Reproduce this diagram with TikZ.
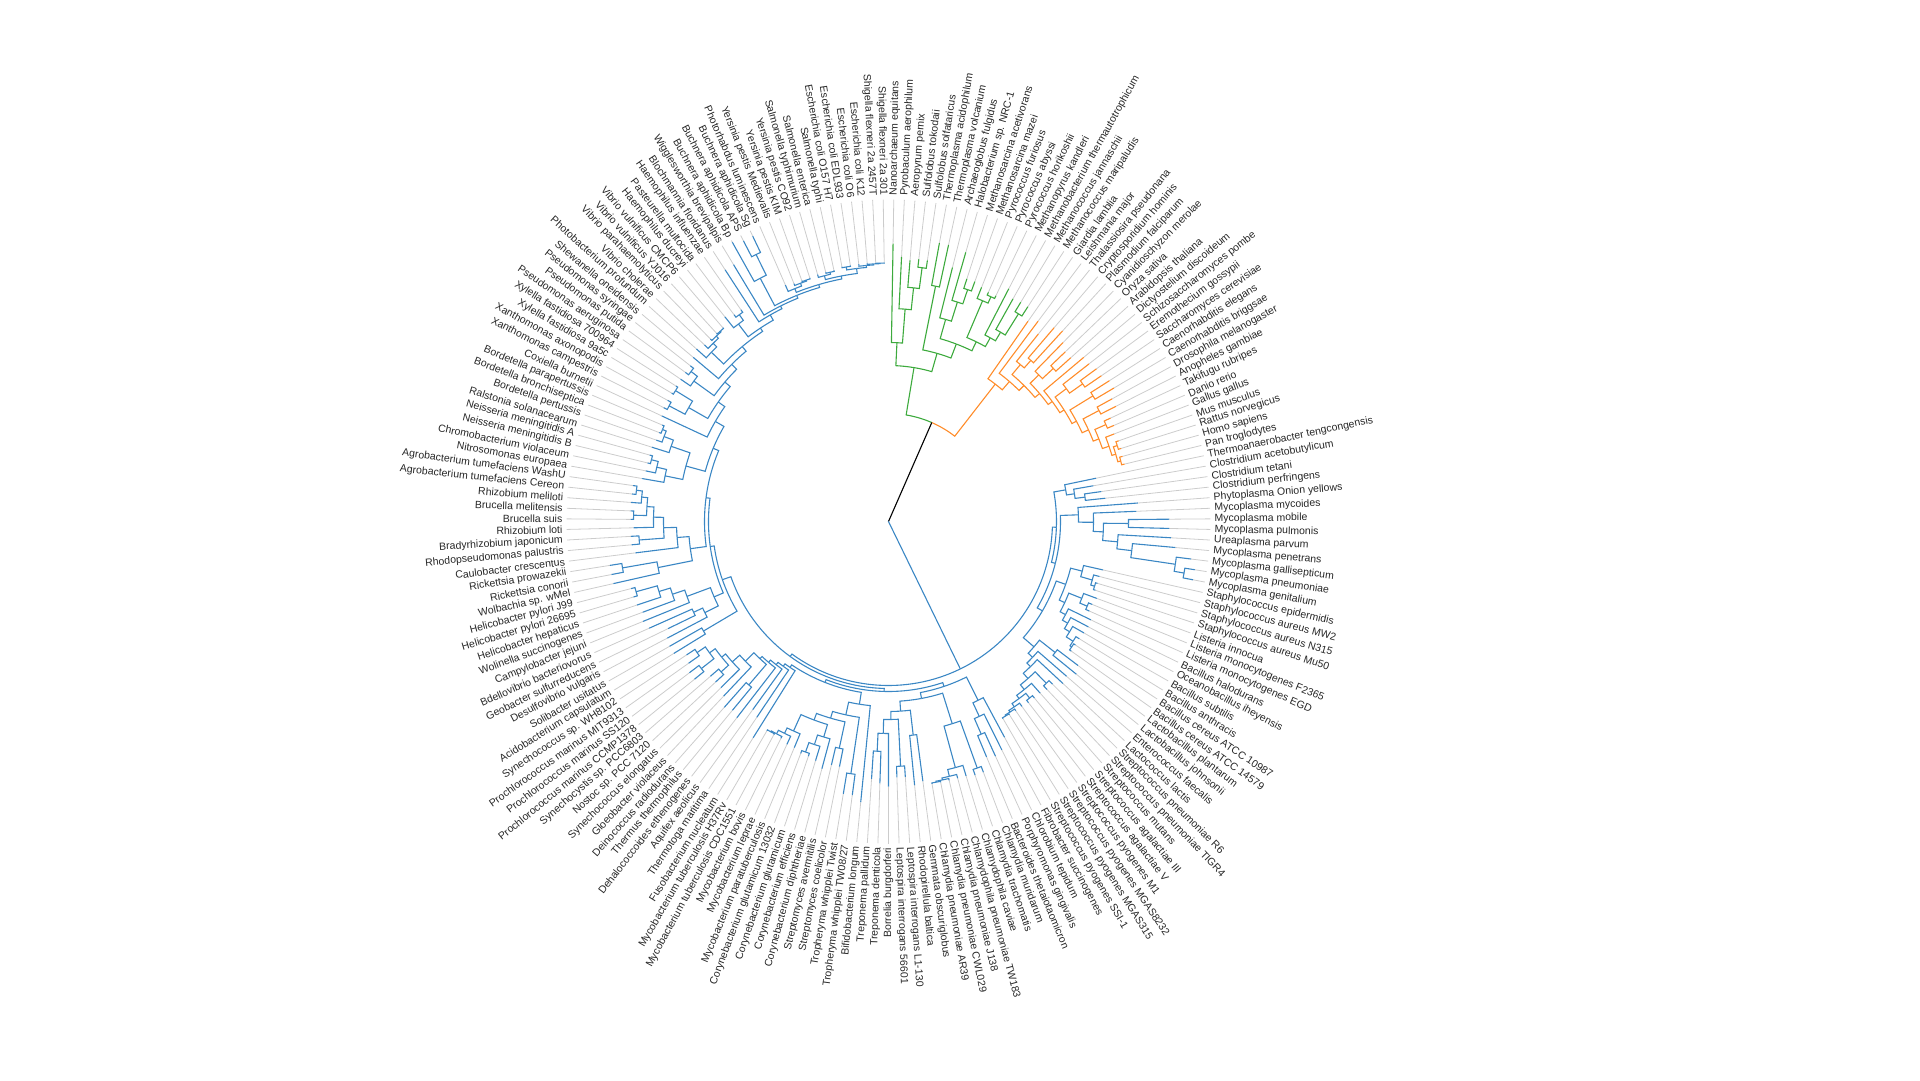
\documentclass[tikz,border=0pt]{standalone}
\usepackage{fontspec}
\setmainfont{Liberation Sans}

\definecolor{bactcol}{HTML}{3B87C4}
\definecolor{eukcol}{HTML}{FF8C2A}
\definecolor{archcol}{HTML}{3DAA3D}

\newcount\leafno
\def\dang{1.8848168} % 360/191
\def\rin{322}
\def\rlab{326}
\def\curcol{black}
\def\sumang{0}\def\nkid{0}\def\kids{}

% record the child just drawn in the parent clade
\newcommand\addkid{%
  \pgfmathsetmacro\sumang{\sumang+\retang}%
  \edef\nkid{\the\numexpr\nkid+1\relax}%
  \edef\kids{\ifx\kids\empty\else\kids,\fi\retang/\retrad/\retcol}%
}
% leaf: tip radius, label
\newcommand\lf[2]{%
  \global\advance\leafno by 1
  \pgfmathsetmacro\la{90-(\the\leafno-0.5)*\dang}%
  \draw[ext] (\la:#1pt) -- (\la:\rin pt);
  \ifnum\leafno<96
    \node[lab, anchor=west, rotate=\la] (lab\the\leafno) at (\la:\rlab pt) {#2};
  \else
    \node[lab, anchor=east, rotate=\la+180] (lab\the\leafno) at (\la:\rlab pt) {#2};
  \fi
  \xdef\retang{\la}\xdef\retrad{#1}\xdef\retcol{\curcol}%
  \addkid}
% clade: [colour], radius, children
\newcommand\cl[3][]{%
  \begingroup
  \ifx\relax#1\relax\else\def\curcol{#1}\fi
  \def\sumang{0}\def\nkid{0}\def\kids{}%
  #3%
  \pgfmathsetmacro\myang{\sumang/\nkid}%
  \foreach \ka/\kr/\kc in \kids {%
    \draw[link, draw=\kc] (\myang:#2pt) arc[start angle=\myang, end angle=\ka, radius=#2pt] -- (\ka:\kr pt);
  }%
  \xdef\retang{\myang}\xdef\retrad{#2}\xdef\retcol{\curcol}%
  \endgroup
  \addkid}

\begin{document}
\begin{tikzpicture}[
  link/.style={line width=1.1pt},
  ext/.style={draw=black!20, line width=0.8pt},
  lab/.style={inner sep=0pt, font=\fontsize{10.5}{12}\selectfont, text=black!85}
]
  \useasboundingbox (-888.5pt,-558.5pt) rectangle (1031.5pt,521.5pt);

  \cl{0.1}{%
    % archaea + eukaryota
    \cl{108}{%
      \cl[archcol]{156}{%
        \cl{179}{\lf{278}{Nanoarchaeum equitans}
          \cl{213}{\lf{265}{Pyrobaculum aerophilum}
            \cl{235}{\lf{262}{Aeropyrum pernix}
              \cl{256}{\lf{264}{Sulfolobus tokodaii}\lf{264}{Sulfolobus solfataricus}}}}}
        \cl{175}{\cl{240}{\lf{283}{Thermoplasma acidophilum}\lf{283}{Thermoplasma volcanium}}
          \cl{190}{\cl{210}{\lf{262}{Archaeoglobus fulgidus}
              \cl{230}{\lf{280}{Halobacterium sp. NRC-1}
                \cl{245}{\lf{255}{Methanosarcina acetivorans}\lf{255}{Methanosarcina mazei}}}}
            \cl{200}{\cl{240}{\lf{252}{Pyrococcus furiosus}
                \cl{247}{\lf{250}{Pyrococcus abyssi}\lf{250}{Pyrococcus horikoshii}}}
              \cl{210}{\lf{262}{Methanopyrus kandleri}
                \cl{220}{\lf{255}{Methanobacterium thermautotrophicum}
                  \cl{245}{\lf{256}{Methanococcus jannaschii}\lf{256}{Methanococcus maripaludis}}}}}}}}
      \cl[eukcol]{174}{\lf{244}{Giardia lamblia}
        \cl{185}{\lf{250}{Leishmania major}
          \cl{192}{\cl{205}{\lf{240}{Thalassiosira pseudonana}
              \cl{215}{\lf{255}{Cryptosporidium hominis}\lf{258}{Plasmodium falciparum}}}
            \cl{198}{\cl{210}{\lf{250}{Cyanidioschyzon merolae}
                \cl{225}{\lf{245}{Oryza sativa}\lf{245}{Arabidopsis thaliana}}}
              \cl{203}{\lf{255}{Dictyostelium discoideum}
                \cl{208}{\cl{222}{\lf{255}{Schizosaccharomyces pombe}
                    \cl{238}{\lf{258}{Eremothecium gossypii}\lf{258}{Saccharomyces cerevisiae}}}
                  \cl{213}{\cl{240}{\lf{262}{Caenorhabditis elegans}\lf{262}{Caenorhabditis briggsae}}
                    \cl{220}{\cl{238}{\lf{255}{Drosophila melanogaster}\lf{255}{Anopheles gambiae}}
                      \cl{226}{\cl{238}{\lf{245}{Takifugu rubripes}\lf{245}{Danio rerio}}
                        \cl{233}{\lf{242}{Gallus gallus}
                          \cl{237}{\cl{241}{\lf{244}{Mus musculus}\lf{244}{Rattus norvegicus}}
                            \cl{240}{\lf{243}{Homo sapiens}\lf{243}{Pan troglodytes}}}}}}}}}}}}}}
    % bacteria
    \cl[bactcol]{164}{%
      \cl{168}{%
        \cl{180}{\lf{212}{Thermoanaerobacter tengcongensis}
          \cl{188}{\lf{208}{Clostridium acetobutylicum}
            \cl{198}{\lf{215}{Clostridium tetani}\lf{218}{Clostridium perfringens}}}}
        \cl{172}{%
          \cl{190}{\lf{250}{Phytoplasma Onion yellows}
            \cl{205}{\lf{248}{Mycoplasma mycoides}
              \cl{215}{\cl{240}{\lf{281}{Mycoplasma mobile}\lf{281}{Mycoplasma pulmonis}}
                \cl{230}{\lf{283}{Ureaplasma parvum}
                  \cl{245}{\lf{288}{Mycoplasma penetrans}
                    \cl{290}{\lf{305}{Mycoplasma gallisepticum}
                      \cl{300}{\lf{310}{Mycoplasma pneumoniae}\lf{310}{Mycoplasma genitalium}}}}}}}}
          \cl{178}{%
            \cl{188}{%
              \cl{200}{\lf{220}{Staphylococcus epidermidis}
                \cl{212}{\lf{218}{Staphylococcus aureus MW2}
                  \cl{216}{\lf{218}{Staphylococcus aureus N315}\lf{218}{Staphylococcus aureus Mu50}}}}
              \cl{194}{%
                \cl{208}{\lf{222}{Listeria innocua}
                  \cl{216}{\lf{220}{Listeria monocytogenes F2365}\lf{220}{Listeria monocytogenes EGD}}}
                \cl{200}{\lf{225}{Bacillus halodurans}
                  \cl{206}{\lf{226}{Oceanobacillus iheyensis}
                    \cl{212}{\lf{225}{Bacillus subtilis}
                      \cl{220}{\lf{224}{Bacillus anthracis}
                        \cl{222}{\lf{224}{Bacillus cereus ATCC 10987}\lf{224}{Bacillus cereus ATCC 14579}}}}}}}}
            \cl{192}{\cl{212}{\lf{238}{Lactobacillus plantarum}\lf{242}{Lactobacillus johnsonii}}
              \cl{198}{\lf{236}{Enterococcus faecalis}
                \cl{203}{\lf{238}{Lactococcus lactis}
                  \cl{210}{\cl{226}{\lf{231}{Streptococcus pneumoniae R6}\lf{231}{Streptococcus pneumoniae TIGR4}}
                    \cl{216}{\lf{229}{Streptococcus mutans}
                      \cl{220}{\cl{226}{\lf{229}{Streptococcus agalactiae III}\lf{229}{Streptococcus agalactiae V}}
                        \cl{224}{\lf{228}{Streptococcus pyogenes M1}
                          \cl{226}{\lf{228}{Streptococcus pyogenes MGAS8232}
                            \cl{227}{\lf{228}{Streptococcus pyogenes MGAS315}\lf{228}{Streptococcus pyogenes SSI-1}}}}}}}}}}}}}
      \cl{167}{%
        \cl{170}{%
          \cl{174}{%
            \cl{200}{\lf{245}{Fibrobacter succinogenes}
              \cl{215}{\lf{255}{Chlorobium tepidum}
                \cl{232}{\lf{258}{Porphyromonas gingivalis}\lf{255}{Bacteroides thetaiotaomicron}}}}
            \cl{180}{%
              \cl{212}{\cl{262}{\lf{268}{Chlamydia muridarum}\lf{268}{Chlamydia trachomatis}}
                \cl{255}{\lf{266}{Chlamydophila caviae}
                  \cl{262}{\lf{266}{Chlamydophila pneumoniae TW183}
                    \cl{264}{\lf{266}{Chlamydia pneumoniae J138}
                      \cl{265}{\lf{266}{Chlamydia pneumoniae CWL029}\lf{266}{Chlamydia pneumoniae AR39}}}}}}
              \cl{190}{\cl{215}{\lf{262}{Gemmata obscuriglobus}\lf{265}{Rhodopirellula baltica}}
                \cl{198}{\cl{245}{\lf{256}{Leptospira interrogans L1-130}\lf{256}{Leptospira interrogans 56601}}
                  \cl{212}{\lf{265}{Borrelia burgdorferi}
                    \cl{230}{\lf{262}{Treponema denticola}\lf{258}{Treponema pallidum}}}}}}}
          \cl{173}{%
            \cl{185}{\lf{282}{Bifidobacterium longum}
              \cl{198}{\cl{255}{\lf{276}{Tropheryma whipplei TW08/27}\lf{276}{Tropheryma whipplei Twist}}
                \cl{205}{\cl{232}{\lf{250}{Streptomyces coelicolor}\lf{250}{Streptomyces avermitilis}}
                  \cl{212}{%
                    \cl{225}{\lf{256}{Corynebacterium diphtheriae}
                      \cl{235}{\lf{250}{Corynebacterium efficiens}
                        \cl{245}{\lf{248}{Corynebacterium glutamicum}\lf{248}{Corynebacterium glutamicum 13032}}}}
                    \cl{230}{\lf{245}{Mycobacterium paratuberculosis}
                      \cl{236}{\lf{245}{Mycobacterium leprae}
                        \cl{240}{\lf{242}{Mycobacterium bovis}
                          \cl{241}{\lf{242}{Mycobacterium tuberculosis CDC1551}\lf{242}{Mycobacterium tuberculosis H37Rv}}}}}}}}}
            \cl{176}{\lf{255}{Fusobacterium nucleatum}
              \cl{179}{\lf{236}{Thermotoga maritima}
                \cl{182}{\lf{232}{Aquifex aeolicus}
                  \cl{185}{\lf{248}{Dehalococcoides ethenogenes}
                    \cl{188}{\cl{215}{\lf{245}{Thermus thermophilus}\lf{248}{Deinococcus radiodurans}}
                      \cl{200}{\lf{240}{Gloeobacter violaceus}
                        \cl{210}{\lf{236}{Synechococcus elongatus}
                          \cl{215}{\cl{225}{\lf{236}{Nostoc sp. PCC 7120}\lf{236}{Synechocystis sp. PCC6803}}
                            \cl{222}{\cl{238}{\lf{250}{Prochlorococcus marinus CCMP1378}\lf{250}{Prochlorococcus marinus SS120}}
                              \cl{232}{\lf{245}{Prochlorococcus marinus MIT9313}\lf{242}{Synechococcus sp. WH8102}}}}}}}}}}}}}
        \cl{176}{%
          \cl{215}{\lf{252}{Acidobacterium capsulatum}\lf{252}{Solibacter usitatus}}
          \cl{180}{%
            \cl{190}{%
              \cl{205}{\lf{250}{Desulfovibrio vulgaris}
                \cl{215}{\lf{245}{Geobacter sulfurreducens}\lf{262}{Bdellovibrio bacteriovorus}}}
              \cl{215}{\lf{265}{Campylobacter jejuni}
                \cl{228}{\lf{262}{Wolinella succinogenes}
                  \cl{240}{\lf{265}{Helicobacter hepaticus}
                    \cl{262}{\lf{266}{Helicobacter pylori 26695}\lf{266}{Helicobacter pylori J99}}}}}}
            \cl{184}{%
              \cl{200}{%
                \cl{235}{\lf{282}{Wolbachia sp. wMel}
                  \cl{270}{\lf{282}{Rickettsia conorii}\lf{282}{Rickettsia prowazekii}}}
                \cl{212}{\lf{255}{Caulobacter crescentus}
                  \cl{225}{\cl{250}{\lf{258}{Rhodopseudomonas palustris}\lf{258}{Bradyrhizobium japonicum}}
                    \cl{235}{\lf{255}{Rhizobium loti}
                      \cl{242}{\cl{255}{\lf{258}{Brucella suis}\lf{258}{Brucella melitensis}}
                        \cl{248}{\lf{258}{Rhizobium meliloti}
                          \cl{254}{\lf{258}{Agrobacterium tumefaciens Cereon}\lf{258}{Agrobacterium tumefaciens WashU}}}}}}}}
              \cl{190}{%
                \cl{210}{%
                  \cl{228}{\lf{250}{Nitrosomonas europaea}
                    \cl{238}{\lf{248}{Chromobacterium violaceum}
                      \cl{245}{\lf{248}{Neisseria meningitidis B}\lf{248}{Neisseria meningitidis A}}}}
                  \cl{230}{\lf{248}{Ralstonia solanacearum}
                    \cl{240}{\lf{246}{Bordetella pertussis}
                      \cl{244}{\lf{246}{Bordetella bronchiseptica}\lf{246}{Bordetella parapertussis}}}}}
                \cl{200}{\lf{250}{Coxiella burnetii}
                  \cl{208}{%
                    \cl{230}{\cl{248}{\lf{252}{Xanthomonas campestris}\lf{252}{Xanthomonas axonopodis}}
                      \cl{250}{\lf{252}{Xylella fastidiosa 9a5c}\lf{252}{Xylella fastidiosa 700964}}}
                    \cl{215}{%
                      \cl{240}{\lf{252}{Pseudomonas aeruginosa}
                        \cl{248}{\lf{252}{Pseudomonas putida}\lf{252}{Pseudomonas syringae}}}
                      \cl{222}{\lf{255}{Shewanella oneidensis}
                        \cl{228}{%
                          \cl{245}{\lf{258}{Photobacterium profundum}
                            \cl{250}{\lf{255}{Vibrio cholerae}
                              \cl{253}{\lf{255}{Vibrio parahaemolyticus}
                                \cl{254}{\lf{255}{Vibrio vulnificus YJ016}\lf{255}{Vibrio vulnificus CMCP6}}}}}
                          \cl{232}{%
                            \cl{248}{\lf{262}{Haemophilus ducreyi}
                              \cl{255}{\lf{258}{Pasteurella multocida}\lf{258}{Haemophilus influenzae}}}
                            \cl{238}{\lf{300}{Blochmannia floridanus}
                              \cl{241}{\lf{300}{Wigglesworthia brevipalpis}
                                \cl{244}{%
                                  \cl{275}{\lf{320}{Buchnera aphidicola Bp}
                                    \cl{298}{\lf{316}{Buchnera aphidicola APS}\lf{316}{Buchnera aphidicola Sg}}}
                                  \cl{247}{%
                                    \cl{251}{\lf{258}{Photorhabdus luminescens}
                                      \cl{254}{\lf{256}{Yersinia pestis Medievalis}
                                        \cl{255}{\lf{256}{Yersinia pestis KIM}\lf{256}{Yersinia pestis CO92}}}}
                                    \cl{250}{%
                                      \cl{254}{\lf{257}{Salmonella typhimurium}
                                        \cl{256}{\lf{257}{Salmonella enterica}\lf{257}{Salmonella typhi}}}
                                      \cl{255}{\cl{258}{\lf{259}{Escherichia coli O157 H7}\lf{259}{Escherichia coli EDL933}}
                                        \cl{257}{\lf{259}{Escherichia coli O6}
                                          \cl{258}{\lf{259}{Escherichia coli K12}
                                            \cl{258.5}{\lf{259}{Shigella flexneri 2a 2457T}\lf{259}{Shigella flexneri 2a 301}}}}}}}}}}}}}}}}}}}}}}}
\end{tikzpicture}
\end{document}
